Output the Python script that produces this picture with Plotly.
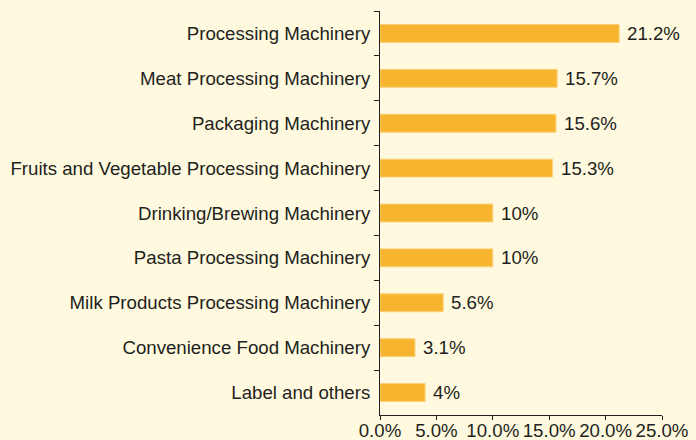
import plotly.graph_objects as go

categories = ["Processing Machinery", "Meat Processing Machinery", "Packaging Machinery",
              "Fruits and Vegetable Processing Machinery", "Drinking/Brewing Machinery",
              "Pasta Processing Machinery", "Milk Products Processing Machinery",
              "Convenience Food Machinery", "Label and others"]
values = [21.2, 15.7, 15.6, 15.3, 10, 10, 5.6, 3.1, 4]
labels = ["21.2%", "15.7%", "15.6%", "15.3%", "10%", "10%", "5.6%", "3.1%", "4%"]
tick_vals = [0, 5, 10, 15, 20, 25]
tick_text = ["0.0%", "5.0%", "10.0%", "15.0%", "20.0%", "25.0%"]

bg = "#FFFADF"
font = dict(family="Liberation Sans, Arial, sans-serif", size=18.67, color="#231F20")

fig = go.Figure(go.Bar(
    y=categories, x=values, orientation="h",
    marker=dict(color="#F7B52F", line=dict(color="#FBD27A", width=1)),
    cliponaxis=False, hoverinfo="skip",
))
for c, v, t in zip(categories, values, labels):
    fig.add_annotation(x=v, y=c, text=t, showarrow=False, xanchor="left",
                       xshift=6, font=font)
fig.update_layout(
    width=696, height=440,
    paper_bgcolor=bg, plot_bgcolor=bg,
    margin=dict(l=380, r=34, t=11, b=25),
    bargap=0.6, showlegend=False, font=font,
)
fig.update_xaxes(range=[0, 25], tickvals=tick_vals, ticktext=tick_text,
                 showgrid=False, zeroline=False, showline=True, linecolor="#231F20",
                 linewidth=1, ticks="outside", ticklen=4, tickcolor="#231F20",
                 tickfont=font, automargin=False, ticklabelstandoff=-5)
fig.update_yaxes(autorange="reversed", showgrid=False, zeroline=False, showline=True,
                 linecolor="#231F20", linewidth=1, ticks="outside", ticklen=5,
                 tickcolor="#231F20", tickson="boundaries", tickfont=font,
                 ticklabelstandoff=5, automargin=False)
post = ("document.body.style.margin='0';document.body.style.overflow='hidden';"
        "document.body.style.background='%s';document.documentElement.style.background='%s';" % (bg, bg))
fig.write_html("out.html", post_script=post, config={"displayModeBar": False})
